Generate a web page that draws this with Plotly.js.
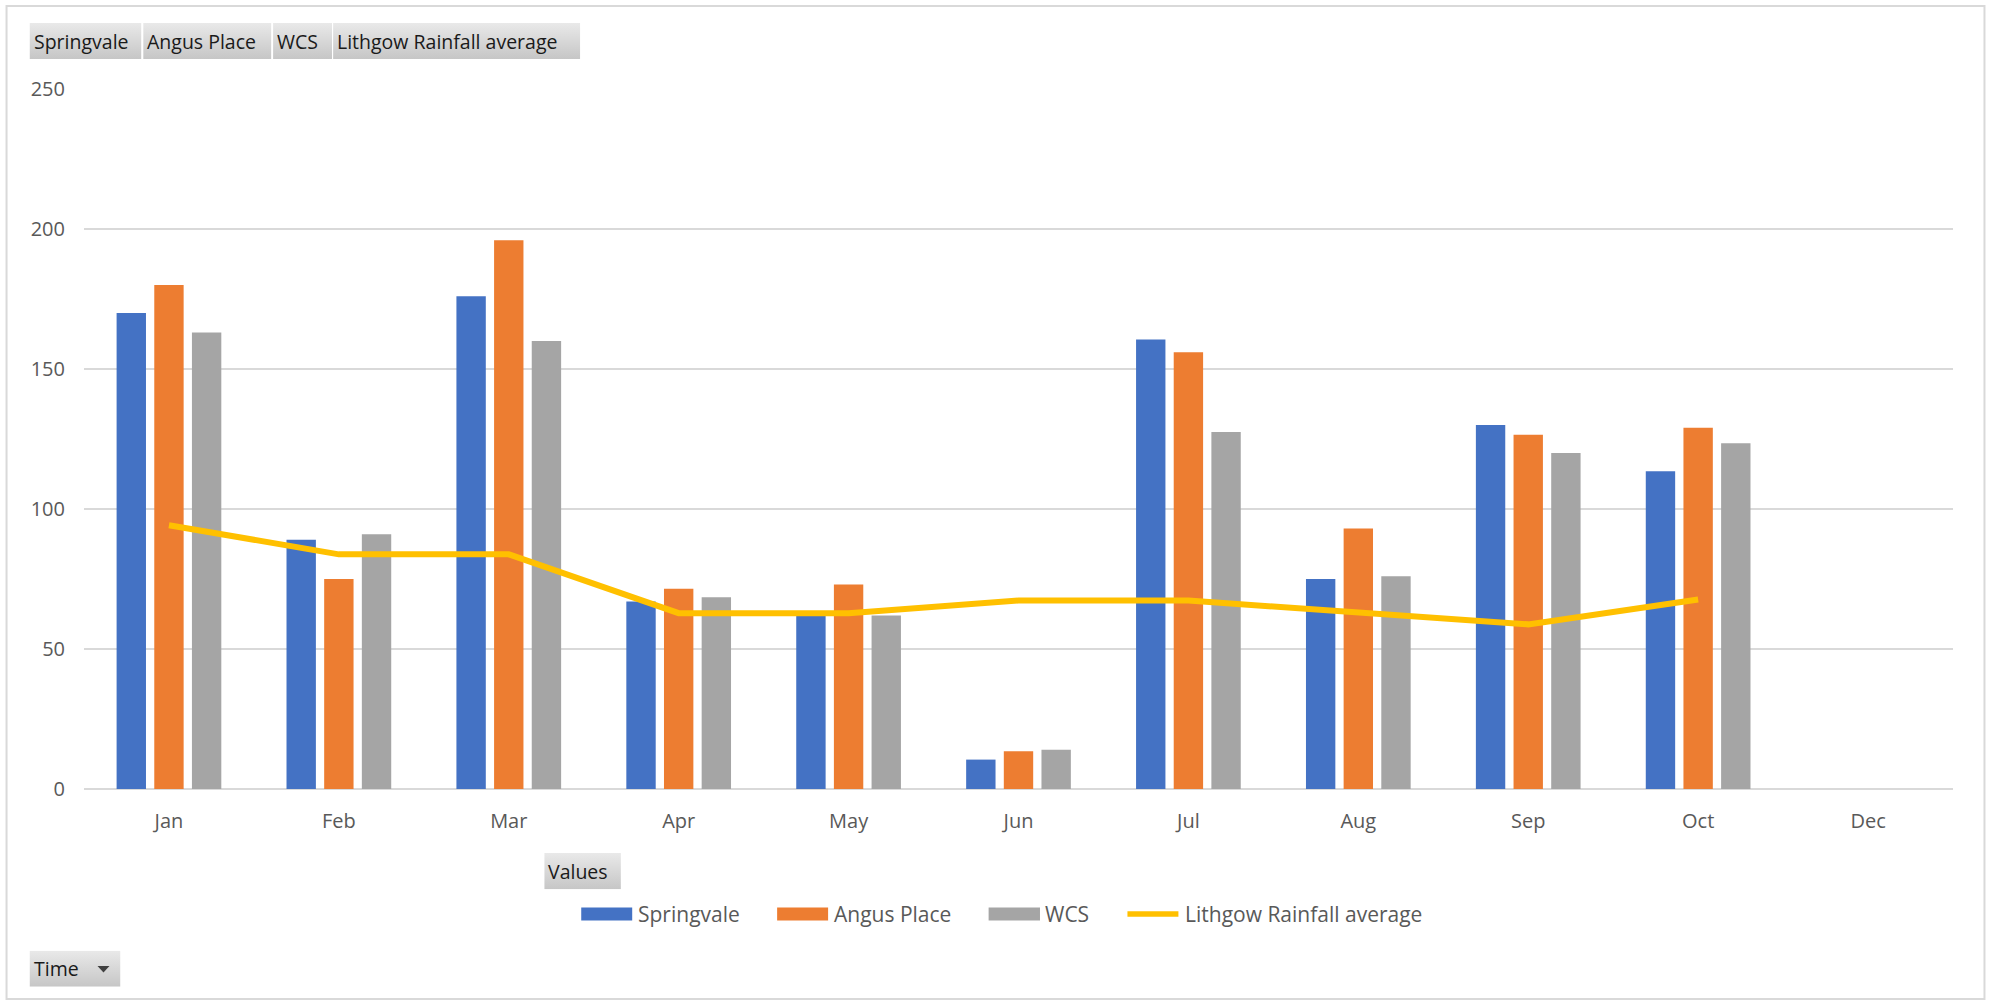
<!DOCTYPE html>
<html>
<head>
<meta charset="utf-8">
<script src="https://cdn.plot.ly/plotly-3.0.1.min.js"></script>
<style>
  html, body { margin: 0; padding: 0; background: #ffffff; }
  #chart { width: 1991px; height: 1002px; }
</style>
</head>
<body>
<div id="chart"></div>
<script>
// ---------------- DATA ----------------
const months = ['Jan', 'Feb', 'Mar', 'Apr', 'May', 'Jun', 'Jul', 'Aug', 'Sep', 'Oct', 'Dec'];
const seriesNames = ['Springvale', 'Angus Place', 'WCS', 'Lithgow Rainfall average'];
const springvale = [170, 89, 176, 67, 62, 10.5, 160.5, 75, 130, 113.5, null];
const angusPlace = [180, 75, 196, 71.5, 73, 13.5, 156, 93, 126.5, 129, null];
const wcs = [163, 91, 160, 68.5, 62, 14, 127.5, 76, 120, 123.5, null];
const lithgowAverage = [94.2, 83.8, 83.8, 62.8, 62.8, 67.3, 67.3, 63.3, 58.8, 67.7, null];
const yTicks = [0, 50, 100, 150, 200, 250];
const fieldButtons = ['Springvale', 'Angus Place', 'WCS', 'Lithgow Rainfall average'];
const valuesButton = 'Values';
const axisButton = 'Time';

// ---------------- STYLE / LAYOUT ----------------
const W = 1991, H = 1002;
const M = { l: 83.5, r: 37.5, t: 89, b: 213 };
const PW = W - M.l - M.r, PH = H - M.t - M.b;
const px = x => (x - M.l) / PW;
const py = y => (H - M.b - y) / PH;

const colors = ['#4472C4', '#ED7D31', '#A5A5A5', '#FFC000'];
const FONT = 'Open Sans, Noto Sans, sans-serif';

const barData = [springvale, angusPlace, wcs];
const traces = barData.map((vals, i) => ({
  type: 'bar',
  name: seriesNames[i],
  x: months,
  y: vals,
  marker: { color: colors[i], line: { width: 0 } },
  showlegend: false,
  hoverinfo: 'x+y+name'
}));
traces.push({
  type: 'scatter',
  mode: 'lines',
  name: seriesNames[3],
  x: months,
  y: lithgowAverage,
  line: { color: colors[3], width: 6 },
  showlegend: false,
  connectgaps: false
});

// Gradient image for pivot buttons
const gradSvg = '<svg xmlns="http://www.w3.org/2000/svg" width="10" height="10" preserveAspectRatio="none">' +
  '<defs><linearGradient id="g" x1="0" y1="0" x2="0" y2="1">' +
  '<stop offset="0" stop-color="#e9e9e9"/><stop offset="1" stop-color="#c6c6c6"/></linearGradient></defs>' +
  '<rect width="10" height="10" fill="url(#g)"/></svg>';
const gradSrc = 'data:image/svg+xml;base64,' + btoa(gradSvg);

const shapes = [];
const annotations = [];
const images = [];

function button(x0, x1, y0, y1, label, textX) {
  images.push({
    source: gradSrc, xref: 'paper', yref: 'paper',
    x: px(x0), y: py(y0), sizex: px(x1) - px(x0), sizey: py(y0) - py(y1),
    xanchor: 'left', yanchor: 'top', sizing: 'stretch', layer: 'above'
  });
  annotations.push({
    xref: 'paper', yref: 'paper', x: px(textX), y: py((y0 + y1) / 2),
    xanchor: 'left', yanchor: 'middle', showarrow: false, text: label,
    font: { family: FONT, size: 19.5, color: '#1a1a1a' }
  });
}

// outer chart border
shapes.push({
  type: 'rect', xref: 'paper', yref: 'paper',
  x0: px(6), x1: px(1985), y0: py(6), y1: py(999),
  line: { color: '#d9d9d9', width: 2 }, fillcolor: 'rgba(0,0,0,0)', layer: 'below'
});

// top field buttons
const topBtnX = [[29, 141], [142.7, 271], [272.7, 331.7], [332.7, 580]];
fieldButtons.forEach((lab, i) => {
  button(topBtnX[i][0], topBtnX[i][1], 23, 59, lab, topBtnX[i][0] + 2);
});
// Values button
button(544, 620.7, 853, 889.3, valuesButton, 546);
// Time button
button(29, 120, 950.7, 986.7, axisButton, 31);
// dropdown triangle
shapes.push({
  type: 'path', xref: 'paper', yref: 'paper',
  path: `M ${px(97)} ${py(966)} L ${px(109)} ${py(966)} L ${px(103)} ${py(972.5)} Z`,
  fillcolor: '#404040', line: { width: 0 }, layer: 'above'
});

// custom legend
const legY = 914;
const legItems = [
  { x0: 581, x1: 632, tx: 636 },
  { x0: 777, x1: 828, tx: 832 },
  { x0: 988.6, x1: 1040, tx: 1043.5 },
  { x0: 1125, x1: 1181, tx: 1183 }
];
legItems.forEach((it, i) => {
  if (i < 3) {
    shapes.push({
      type: 'rect', xref: 'paper', yref: 'paper',
      x0: px(it.x0), x1: px(it.x1), y0: py(legY - 6.5), y1: py(legY + 6.5),
      fillcolor: colors[i], line: { width: 0 }
    });
  } else {
    shapes.push({
      type: 'line', xref: 'paper', yref: 'paper',
      x0: px(it.x0 + 2.5), x1: px(it.x1 - 2.5), y0: py(legY), y1: py(legY),
      line: { color: colors[i], width: 5.5 }
    });
  }
  annotations.push({
    xref: 'paper', yref: 'paper', x: px(it.tx), y: py(legY),
    xanchor: 'left', yanchor: 'middle', showarrow: false, text: seriesNames[i],
    font: { family: FONT, size: 21, color: '#595959' }
  });
});

const layout = {
  width: W, height: H,
  margin: M,
  paper_bgcolor: '#ffffff',
  plot_bgcolor: '#ffffff',
  font: { family: FONT, color: '#595959' },
  barmode: 'group',
  bargap: 0.335,
  bargroupgap: 0.22,
  showlegend: false,
  xaxis: {
    type: 'category',
    categoryorder: 'array',
    categoryarray: months,
    range: [-0.5, months.length - 0.5],
    showgrid: false,
    showline: false,
    zeroline: false,
    ticks: '',
    tickfont: { family: FONT, size: 20, color: '#595959' },
    ticklabelstandoff: 18,
    fixedrange: true
  },
  yaxis: {
    range: [0, 250],
    tickvals: yTicks,
    ticktext: yTicks.map(String),
    showgrid: true,
    gridcolor: '#d9d9d9',
    gridwidth: 1.6,
    zeroline: true,
    zerolinecolor: '#d9d9d9',
    zerolinewidth: 1.6,
    showline: false,
    ticks: '',
    tickfont: { family: FONT, size: 20, color: '#595959' },
    ticklabelstandoff: 18,
    fixedrange: true
  },
  shapes: shapes,
  annotations: annotations,
  images: images
};

Plotly.newPlot('chart', traces, layout, { displayModeBar: false, staticPlot: true });
</script>
</body>
</html>
